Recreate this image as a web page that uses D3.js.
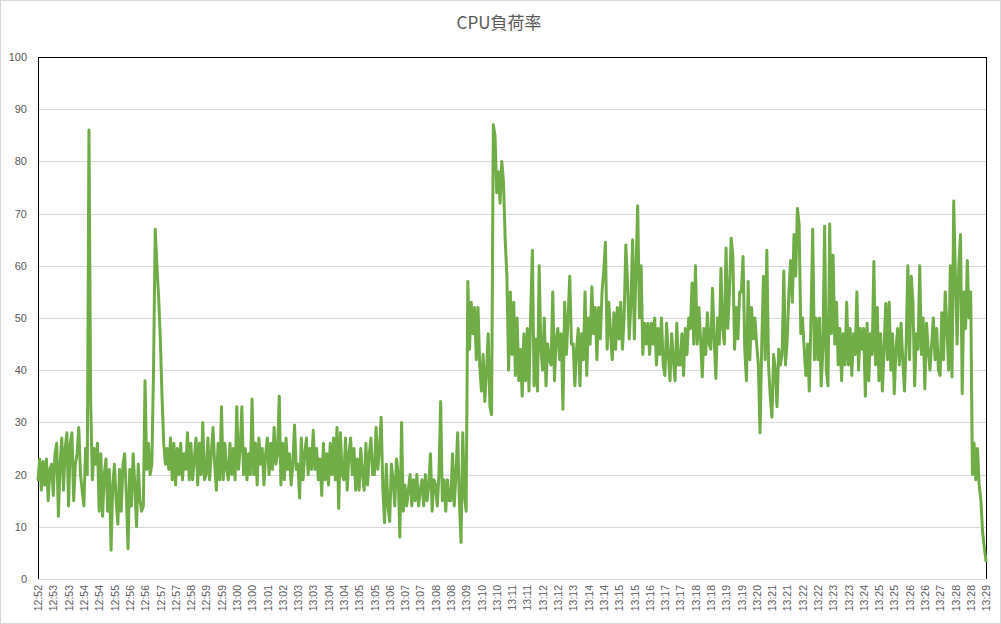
<!DOCTYPE html>
<html>
<head>
<meta charset="utf-8">
<script src="https://cdn.jsdelivr.net/npm/d3@7/dist/d3.min.js"></script>
<style>
  html, body { margin: 0; padding: 0; background: #ffffff; }
  svg { display: block; }
</style>
</head>
<body>
<svg id="chart" width="1001" height="624"></svg>
<script>
// ---- data ----
const chartTitle = "CPU負荷率";
const yTicks = [0, 10, 20, 30, 40, 50, 60, 70, 80, 90, 100];
const pointsPerLabel = 9;
const timeLabels = [
  "12:52","12:53","12:53","12:54","12:54","12:55","12:56","12:56","12:57","12:57",
  "12:58","12:59","12:59","13:00","13:00","13:01","13:02","13:03","13:03","13:04",
  "13:04","13:05","13:05","13:06","13:07","13:07","13:08","13:08","13:09","13:10",
  "13:10","13:11","13:11","13:12","13:12","13:13","13:14","13:14","13:15","13:15",
  "13:16","13:17","13:17","13:18","13:18","13:19","13:19","13:20","13:21","13:21",
  "13:22","13:22","13:23","13:23","13:24","13:25","13:25","13:26","13:26","13:27",
  "13:28","13:28","13:29"
];
const cpuLoad = [
  19, 23, 17, 22.5, 18, 23, 15, 21, 22,
  16, 24, 26, 12, 22, 27, 17, 25, 28,
  14, 26, 28, 15, 22, 24, 29, 20, 17,
  14, 25, 20, 86, 34, 19, 25, 22, 26,
  13, 24, 12, 20, 23, 13, 21, 5.5, 18,
  22, 15, 10.5, 21, 13, 22, 24, 16, 5.8,
  21, 14, 24, 18, 10, 22, 15, 13, 14,
  38, 21, 26, 20, 22, 40, 67, 60, 54,
  46, 35, 26, 22, 25, 21, 27, 19, 26,
  18, 25, 20, 26, 19, 24, 21, 28, 19,
  26, 19, 23, 27, 18, 26, 20, 30, 19,
  20, 27, 19, 24, 29, 22, 17, 26, 19,
  33, 19, 26, 21, 19, 26, 20, 25, 19,
  33, 21, 25, 33, 20, 25, 19, 24, 20,
  34.5, 20, 26, 18, 27, 22, 25, 18, 24,
  27, 20, 26, 21, 29, 22, 24, 35, 18,
  26, 19, 27, 21, 24, 18, 22, 29.5, 21,
  22, 15.5, 27, 19, 24, 27, 20, 25, 21,
  28.5, 21, 25, 19, 23, 16, 26, 19, 24,
  18, 26, 20, 27, 19, 29, 13.5, 28, 20,
  19, 27, 17, 24, 27, 20, 25, 17, 23,
  17, 25, 20, 17, 26, 18, 24, 27, 20,
  20, 29, 21, 25, 31, 17, 10.8, 22, 14,
  11, 22, 19, 14, 23, 20, 8, 30, 13,
  18, 14, 17, 20, 14, 19, 15, 20, 14,
  17, 19, 14, 20, 15, 18, 24, 13, 19,
  18, 14, 20, 34, 15, 19, 13, 19, 15,
  15, 24, 14, 20, 28, 15, 7, 28, 16,
  13, 57, 44, 53, 47, 52, 42, 52, 41,
  36, 43, 34, 40, 47, 33, 31.5, 87, 85,
  74, 78, 72, 80, 76, 65, 58, 40, 55,
  43, 53, 39, 50, 38, 44, 35, 47, 38,
  48, 36, 51, 63, 37, 46, 36, 60, 44,
  40, 50, 37, 45, 42, 41, 55, 38, 46,
  48, 42, 47, 32.5, 53, 43, 50, 58, 45,
  45, 37, 44, 48, 37, 47, 42, 55, 39,
  50, 45, 56, 47, 52, 42, 52, 46, 55,
  59, 64.5, 44, 53, 47, 42, 51, 44, 52,
  46, 53, 44, 50, 64, 57, 46, 53, 65,
  46, 60, 71.5, 50, 60, 43, 49, 45, 49,
  43, 49, 45, 50, 41, 48, 43, 50, 41,
  39, 49, 43, 38, 47, 42, 38, 49, 41,
  41, 47, 39, 48, 43, 50, 48, 56.7, 45,
  60, 45, 52, 46, 38.7, 48, 43, 51, 45,
  44, 55.7, 46, 38.4, 50, 45, 59.5, 48, 45,
  63.4, 48, 55, 65.3, 62, 44, 52, 46, 55,
  55, 61.8, 44, 38, 57, 42, 52, 46, 50,
  45, 41, 28, 45, 58, 42, 63, 41, 35,
  31, 43, 40, 33, 44, 41, 43, 59, 41,
  46, 55, 61, 53, 66, 58, 71, 68, 47,
  50, 44, 39, 45, 36, 50, 67, 42, 50,
  42, 50, 37, 44, 67.6, 40, 37, 68, 47,
  62, 45, 53, 41, 48, 38, 47, 41, 53,
  41, 48, 39, 47, 43, 55, 40, 48, 44,
  48, 35, 49, 38, 47, 43, 60.8, 41, 52,
  38, 47, 36, 44, 52.8, 42, 53, 40, 47,
  35.5, 44, 48, 41, 49, 42, 36, 45, 60,
  42, 58, 53, 37, 47, 44, 60, 43, 50,
  36.4, 49, 44, 40, 45, 50, 42, 48, 40,
  39, 51, 42, 55, 48, 40, 60, 38.7, 72.4,
  58, 45, 60, 66, 35.5, 55, 48, 61, 50,
  55, 20, 26, 19, 25, 18, 15, 9, 6,
  3.5
];

// ---- layout ----
const W = 1001, H = 624;
const plot = { left: 38, right: 986, top: 57, bottom: 579 };
const textColor = "#595959";
const gridColor = "#d9d9d9";
const lineColor = "#70AD47";

const svg = d3.select("#chart");

// outer chart border
svg.append("rect")
  .attr("x", 0.5).attr("y", 0.5)
  .attr("width", W - 1).attr("height", H - 1)
  .attr("fill", "#ffffff")
  .attr("stroke", gridColor);

const x = d3.scaleLinear().domain([0, cpuLoad.length - 1]).range([plot.left, plot.right]);
const y = d3.scaleLinear().domain([0, 100]).range([plot.bottom, plot.top]);

// gridlines + y labels
const yAxis = d3.axisLeft(y).tickValues(yTicks).tickSize(-(plot.right - plot.left)).tickPadding(11).tickFormat(d3.format("d"));
const gy = svg.append("g").attr("transform", `translate(${plot.left},0)`).call(yAxis);
gy.select(".domain").remove();
gy.selectAll(".tick line").attr("stroke", gridColor).attr("stroke-width", 1).attr("shape-rendering", "crispEdges");
gy.selectAll(".tick text")
  .attr("fill", textColor)
  .style("font-family", "'Liberation Sans', Arial, sans-serif")
  .style("font-size", "11px");

// frame lines: top, left, right black
const frame = svg.append("g").attr("stroke", "#000").attr("stroke-width", 1).attr("shape-rendering", "crispEdges");
frame.append("line").attr("x1", plot.left).attr("x2", plot.right).attr("y1", plot.top).attr("y2", plot.top);
frame.append("line").attr("x1", plot.left).attr("x2", plot.left).attr("y1", plot.top).attr("y2", plot.bottom);
frame.append("line").attr("x1", plot.right).attr("x2", plot.right).attr("y1", plot.top).attr("y2", plot.bottom);

// x axis labels
const xTickIdx = timeLabels.map((_, i) => i * pointsPerLabel);
const xAxis = d3.axisBottom(x).tickValues(xTickIdx).tickSize(0)
  .tickFormat(d => timeLabels[d / pointsPerLabel]);
const gx = svg.append("g").attr("transform", `translate(0,${plot.bottom})`).call(xAxis);
gx.select(".domain").remove();
gx.selectAll(".tick text")
  .attr("fill", textColor)
  .style("font-family", "'Liberation Sans', Arial, sans-serif")
  .style("font-size", "10.5px")
  .attr("text-anchor", "end")
  .attr("transform", "rotate(-90)")
  .attr("x", -6)
  .attr("y", 0)
  .attr("dy", "0.35em");

// line
const line = d3.line().x((d, i) => x(i)).y(d => y(d));
svg.append("path")
  .datum(cpuLoad)
  .attr("d", line)
  .attr("fill", "none")
  .attr("stroke", lineColor)
  .attr("stroke-width", 3)
  .attr("stroke-linejoin", "round")
  .attr("stroke-linecap", "round");

// title
svg.append("text")
  .attr("x", 499).attr("y", 29)
  .attr("text-anchor", "middle")
  .attr("fill", textColor)
  .style("font-family", "'Noto Sans CJK JP', 'Noto Sans', sans-serif")
  .style("font-size", "17px")
  .text(chartTitle);
</script>
</body>
</html>
